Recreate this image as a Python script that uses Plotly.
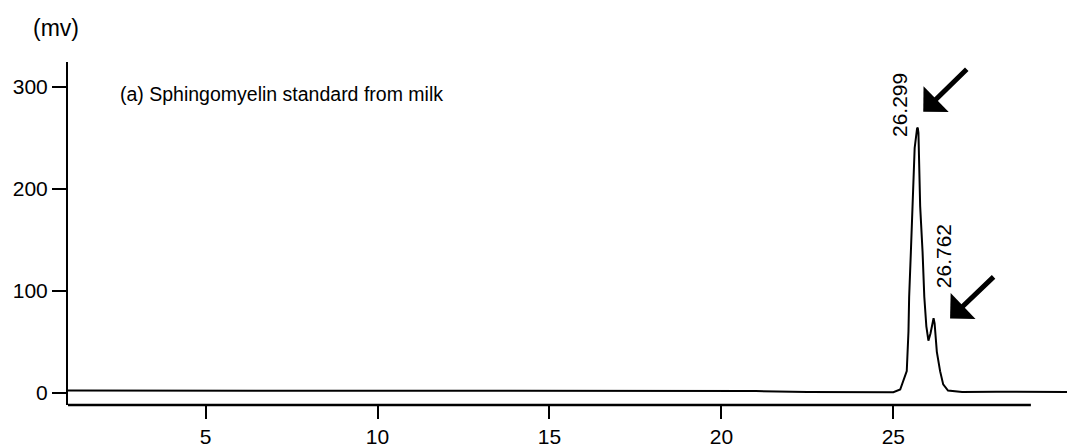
import plotly.graph_objects as go

# Chromatogram trace (retention time in min, signal in mV)
time_min = [1.0, 5.0, 10.0, 15.0, 17.0, 19.0, 21.0, 22.5, 24.0, 25.0, 25.2,
            25.39, 25.44, 25.46, 25.51, 25.555, 25.62, 25.69, 25.71, 25.73,
            25.78, 25.85, 25.90, 25.96, 26.02, 26.08, 26.14, 26.17, 26.20,
            26.265, 26.36, 26.45, 26.59, 27.0, 28.0, 29.0, 30.05]
signal_mv = [2.0, 2.0, 2.0, 2.0, 2.0, 1.8, 1.5, 0.5, 0.4, 0.4, 3.0,
             21.0, 60.0, 94.0, 138.0, 183.0, 240.0, 259.0, 260.0, 255.0,
             183.0, 138.0, 94.0, 65.0, 51.0, 58.0, 70.0, 73.0, 68.0,
             40.0, 21.0, 8.0, 2.0, 0.6, 0.8, 0.5, 0.5]

x_tickvals = [5, 10, 15, 20, 25]
y_tickvals = [0, 100, 200, 300]

peak_labels = ["26.299", "26.762"]

FONT = "Arial, Liberation Sans, Helvetica, sans-serif"

fig = go.Figure()
fig.add_trace(go.Scatter(
    x=time_min, y=signal_mv, mode="lines",
    line=dict(color="black", width=2),
    hoverinfo="skip", showlegend=False,
))

fig.update_layout(
    width=1067, height=448,
    margin=dict(l=68, r=0, t=62, b=41),
    paper_bgcolor="white", plot_bgcolor="white",
    font=dict(family=FONT, size=20, color="black"),
    xaxis=dict(
        range=[1.0, 30.05], tickvals=x_tickvals, ticks="outside",
        ticklen=13, tickwidth=2, tickcolor="black",
        showline=False, showgrid=False, zeroline=False,
        tickfont=dict(size=21),
    ),
    yaxis=dict(
        range=[-12.2, 324.4], tickvals=y_tickvals, ticks="outside",
        ticklen=14, tickwidth=1.5, tickcolor="black",
        showline=True, linecolor="black", linewidth=2,
        showgrid=False, zeroline=False, tickfont=dict(size=21),
    ),
    shapes=[dict(type="line", xref="x", yref="paper", x0=1.0, x1=29.0,
                 y0=0, y1=0, line=dict(color="black", width=2.5))],
)

annotations = [
    dict(text="(mv)", xref="paper", yref="paper", x=-0.012, y=1.0986,
         xanchor="center", yanchor="middle", showarrow=False,
         font=dict(size=23)),
    dict(text="(a) Sphingomyelin standard from milk", xref="paper", yref="paper",
         x=0.05, y=0.907, xanchor="left", yanchor="middle", showarrow=False,
         font=dict(size=19.5)),
    dict(text=peak_labels[0], xref="x", yref="y", x=25.20, y=282.4,
         textangle=-90, showarrow=False, font=dict(size=21)),
    dict(text=peak_labels[1], xref="x", yref="y", x=26.45, y=134.0,
         textangle=-90, showarrow=False, font=dict(size=21)),
    dict(text="", xref="x", yref="y", x=25.87, y=275.6, ax=45, ay=-44,
         showarrow=True, arrowhead=1, arrowwidth=5, arrowsize=1.2,
         arrowcolor="black"),
    dict(text="", xref="x", yref="y", x=26.65, y=72.7, ax=45, ay=-43,
         showarrow=True, arrowhead=1, arrowwidth=5, arrowsize=1.2,
         arrowcolor="black"),
]
fig.update_layout(annotations=annotations)

fig.write_html("out.html")
